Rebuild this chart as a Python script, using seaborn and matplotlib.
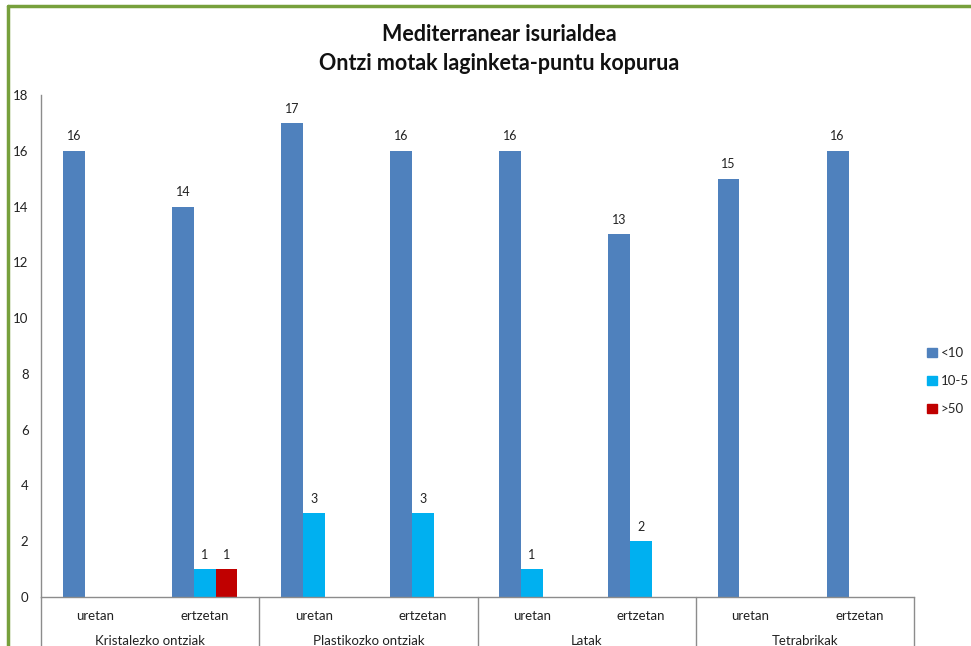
import pandas as pd
import seaborn as sns
import matplotlib.pyplot as plt
from matplotlib.lines import Line2D
from matplotlib.transforms import blended_transform_factory

groups = ["Kristalezko ontziak", "Plastikozko ontziak", "Latak", "Tetrabrikak"]
places = ["uretan", "ertzetan"]
series = ["<10", "10-5", ">50"]
lt10 = [16, 14, 17, 16, 16, 13, 15, 16]
mid = [0, 1, 3, 3, 1, 2, 0, 0]
gt50 = [0, 1, 0, 0, 0, 0, 0, 0]
colors = ["#4F81BD", "#00B0F0", "#C00000"]

keys = [f"{g}|{p}" for g in groups for p in places]
rows = []
for name, vals in zip(series, [lt10, mid, gt50]):
    for k, v in zip(keys, vals):
        rows.append({"cat": k, "serie": name, "n": v})
df = pd.DataFrame(rows)

sns.set_theme(style="white")
plt.rcParams['font.family'] = ['Lato', 'DejaVu Sans']

fig = plt.figure(figsize=(9.71, 6.46), dpi=100)
ax = fig.add_axes([41 / 971, 49 / 646, 873 / 971, 502 / 646])

sns.barplot(data=df, x="cat", y="n", hue="serie", order=keys, hue_order=series,
            palette=colors, width=0.6, saturation=1, linewidth=0, ax=ax, legend=False)

for cont in ax.containers:
    labels = [f"{v:g}" if v > 0 else "" for v in cont.datavalues]
    ax.bar_label(cont, labels=labels, padding=6, fontsize=9, color="#222222")

ax.set_xlim(-0.5, len(keys) - 0.5)
ax.set_ylim(0, 18)
ax.set_yticks(range(0, 19, 2))
ax.tick_params(axis="y", labelsize=9.5, length=0, pad=9, colors="#222222")
ax.set_xticks(range(len(keys)))
ax.set_xticklabels([p for g in groups for p in places])
ax.tick_params(axis="x", labelsize=9.5, length=0, pad=9, colors="#222222")
ax.set_xlabel("")
ax.set_ylabel("")
for s in ["top", "right"]:
    ax.spines[s].set_visible(False)
for s in ["left", "bottom"]:
    ax.spines[s].set_color("#8C8C8C")
    ax.spines[s].set_linewidth(1)

# group separators and group labels
tr = blended_transform_factory(ax.transData, ax.transAxes)
for i in range(len(groups) + 1):
    xpos = i * 2 - 0.5
    ax.add_line(Line2D([xpos, xpos], [0, -0.12], transform=tr, color="#8C8C8C",
                       lw=1, clip_on=False))
for i, g in enumerate(groups):
    ax.text(i * 2 + 0.5, -0.088, g, transform=tr, ha="center", va="center",
            fontsize=9.5, color="#222222")

fig.text(0.514, 0.947, "Mediterranear isurialdea", ha="center", va="center",
         fontsize=15.5, fontweight="bold", color="#111111")
fig.text(0.514, 0.902, "Ontzi motak laginketa-puntu kopurua", ha="center", va="center",
         fontsize=15.5, fontweight="bold", color="#111111")

# legend
handles = [plt.Rectangle((0, 0), 1, 1, color=c) for c in colors]
fig.legend(handles, series, loc="center left", bbox_to_anchor=(0.955, 0.41),
           frameon=False, fontsize=9.5, handlelength=0.7, handleheight=0.7,
           handletextpad=0.3, labelspacing=1.2, borderaxespad=0, borderpad=0)

# green frame of the chart area
fig.add_artist(Line2D([8 / 971, 8 / 971], [0, 1 - 6 / 646], color="#77A03C", lw=2.5))
fig.add_artist(Line2D([8 / 971, 1], [1 - 6 / 646, 1 - 6 / 646], color="#77A03C", lw=2.5))

fig.savefig("out.png", dpi=100)
